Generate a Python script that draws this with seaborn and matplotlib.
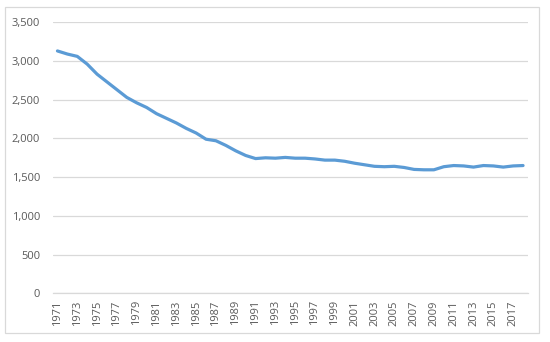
import matplotlib
matplotlib.use("Agg")
import matplotlib.pyplot as plt
import seaborn as sns
import pandas as pd
from matplotlib.patches import Rectangle
from matplotlib.ticker import FuncFormatter

years = list(range(1971, 2019))
values = [3130, 3090, 3060, 2960, 2830, 2730, 2630, 2530, 2460, 2400,
          2320, 2260, 2200, 2130, 2070, 1990, 1970, 1910, 1840, 1780,
          1740, 1750, 1745, 1755, 1745, 1745, 1735, 1720, 1720, 1705,
          1680, 1660, 1640, 1635, 1640, 1625, 1600, 1595, 1595, 1635,
          1650, 1645, 1630, 1650, 1645, 1630, 1645, 1650]
y_ticks = [0, 500, 1000, 1500, 2000, 2500, 3000, 3500]
x_tick_labels = [str(y) for y in range(1971, 2018, 2)]

df = pd.DataFrame({"year": years, "value": values})

sns.set_theme(style="white")
plt.rcParams['font.family'] = ['Open Sans', 'DejaVu Sans']

fig = plt.figure(figsize=(5.5, 3.42), dpi=100)
ax = fig.add_axes([52.5/550, 1-293.3/342, (528-52.5)/550, (293.3-22.3)/342])

sns.lineplot(data=df, x="year", y="value", ax=ax, color="#5B9BD5",
             linewidth=2.3, solid_capstyle="round", solid_joinstyle="round")

ax.set_xlim(1970.5, 2018.5)
ax.set_ylim(0, 3500)
ax.set_yticks(y_ticks)
ax.yaxis.set_major_formatter(FuncFormatter(lambda v, p: f"{int(v):,}"))
ax.set_xticks([int(s) for s in x_tick_labels])
ax.set_xticklabels(x_tick_labels, rotation=90)
ax.grid(axis="y", color="#D9D9D9", linewidth=0.9)
ax.set_axisbelow(True)
for s in ["top", "right", "left"]:
    ax.spines[s].set_visible(False)
ax.spines["bottom"].set_color("#D9D9D9")
ax.spines["bottom"].set_linewidth(0.9)
ax.tick_params(axis="both", length=0, labelsize=8, labelcolor="#595959")
ax.tick_params(axis="y", pad=9)
ax.tick_params(axis="x", pad=5)
ax.set_xlabel("")
ax.set_ylabel("")

fig.patches.append(Rectangle((5/550, 1-333/342), (539-5)/550, (333-7)/342,
                             transform=fig.transFigure, fill=False,
                             edgecolor="#D9D9D9", linewidth=0.9))

fig.savefig("out.png", dpi=100)
